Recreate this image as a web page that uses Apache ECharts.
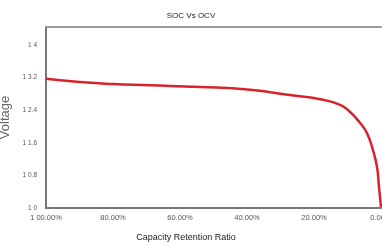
<!DOCTYPE html>
<html>
<head>
<meta charset="utf-8">
<script src="https://cdn.jsdelivr.net/npm/echarts@6/dist/echarts.min.js"></script>
<style>
  html, body { margin: 0; padding: 0; background: #fff; }
  #chart { width: 382px; height: 246px; }
</style>
</head>
<body>
<div id="chart"></div>
<script>
// capacity retention (%) vs open-circuit voltage (V), low to high capacity
const capacity = [0, 0.6, 1.2, 2.4, 4.2, 6.3, 9.3, 12.2, 18.2, 27.2, 39.1, 54, 69, 80, 89.9, 100]
const voltage = [10.02, 10.52, 11.01, 11.42, 11.84, 12.09, 12.36, 12.53, 12.67, 12.77, 12.9, 12.97, 13.01, 13.04, 13.09, 13.17]

const xTickValues = [0, 20, 40, 60, 80, 100]
const xTickLabels = ['0.00%', '20.00%', '40.00%', '60.00%', '80.00%', '1 00.00%']
const yTickValues = [10, 10.8, 11.6, 12.4, 13.2, 14]
const yTickLabels = ['1 0', '1 0.8', '1 1.6', '1 2.4', '1 3.2', '1 4']

const font = '"Liberation Sans", Arial, sans-serif'

const lookup = (vals, labels) => v => {
  const i = vals.findIndex(t => Math.abs(t - v) < 1e-6)
  return i < 0 ? '' : labels[i]
}

const chart = echarts.init(document.getElementById('chart'))

const option = {
  animation: false,
  title: {
    text: 'SOC Vs OCV',
    left: 'center',
    top: 7,
    textStyle: { fontFamily: font, fontSize: 8, fontWeight: 'normal', color: '#222' }
  },
  grid: { left: 46, right: 1, top: 27, bottom: 38, outerBoundsMode: 'none', containLabel: false },
  xAxis: [
    {
      type: 'value',
      min: 0,
      max: 100,
      interval: 20,
      inverse: true,
      name: 'Capacity Retention Ratio',
      nameLocation: 'middle',
      nameGap: 25,
      nameTextStyle: { fontFamily: font, fontSize: 9, color: '#222', padding: [0, 55, 0, 0] },
      axisLine: { onZero: false, lineStyle: { color: '#777', width: 2 } },
      axisTick: { show: false },
      splitLine: { show: false },
      axisLabel: {
        fontFamily: font,
        fontSize: 7.5,
        color: '#555',
        margin: 6,
        formatter: lookup(xTickValues, xTickLabels)
      }
    },
    {
      type: 'value',
      position: 'top',
      min: 0,
      max: 100,
      axisLine: { show: true, onZero: false, lineStyle: { color: '#999', width: 2 } },
      axisTick: { show: false },
      axisLabel: { show: false },
      splitLine: { show: false }
    }
  ],
  yAxis: {
    type: 'value',
    min: 10,
    max: 14.44,
    interval: 0.8,
    name: 'Voltage',
    nameLocation: 'middle',
    nameGap: 27,
    nameTextStyle: { fontFamily: font, fontSize: 13, color: '#666' },
    axisLine: { show: true, onZero: false, lineStyle: { color: '#777', width: 2 } },
    axisTick: { show: false },
    splitLine: { show: false },
    axisLabel: {
      fontFamily: font,
      fontSize: 6.5,
      color: '#555',
      margin: 9,
      showMaxLabel: false,
      padding: [0, 0, 6, 0],
      formatter: lookup(yTickValues, yTickLabels)
    }
  },
  series: [
    {
      type: 'line',
      data: capacity.map((c, i) => [c, voltage[i]]),
      smooth: 0.5,
      showSymbol: false,
      lineStyle: { color: '#d8232a', width: 2.5 }
    }
  ]
}

chart.setOption(option)
</script>
</body>
</html>
